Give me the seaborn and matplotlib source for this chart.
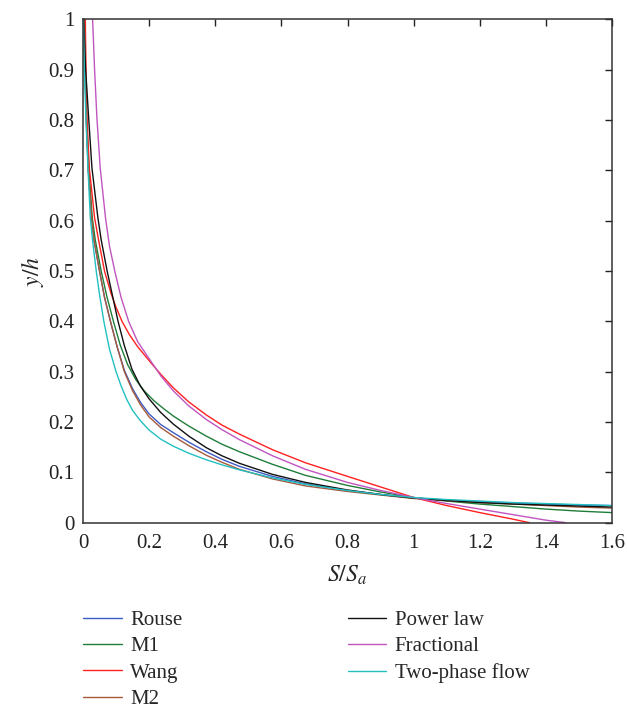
import numpy as np
import pandas as pd
import matplotlib
matplotlib.use('Agg')
import matplotlib.pyplot as plt
import seaborn as sns

# values: S/Sa (x) against y/h (y), one list pair per model
rouse_s = [0.003, 0.006, 0.010, 0.016, 0.026, 0.033, 0.050, 0.065, 0.083, 0.103, 0.125, 0.150,
           0.175, 0.200, 0.235, 0.273, 0.32, 0.373, 0.42, 0.473, 0.573, 0.673, 0.8, 0.9,
           1.0, 1.1, 1.2, 1.3, 1.4, 1.5, 1.6]
rouse_y = [1.0, 0.9, 0.8, 0.7, 0.606, 0.562, 0.5, 0.448, 0.4, 0.350, 0.303, 0.266,
           0.238, 0.216, 0.195, 0.179, 0.160, 0.141, 0.126, 0.112, 0.092, 0.077, 0.064, 0.056,
           0.049, 0.045, 0.042, 0.039, 0.037, 0.035, 0.034]

m1_s = [0.003, 0.006, 0.011, 0.018, 0.028, 0.037, 0.055, 0.072, 0.092, 0.113, 0.135, 0.160,
        0.185, 0.215, 0.245, 0.273, 0.32, 0.373, 0.42, 0.473, 0.573, 0.673, 0.8, 0.9,
        1.0, 1.1, 1.2, 1.3, 1.4, 1.5, 1.6]
m1_y = [1.0, 0.9, 0.8, 0.7, 0.606, 0.562, 0.5, 0.45, 0.4, 0.352, 0.314, 0.284,
        0.262, 0.242, 0.226, 0.212, 0.192, 0.172, 0.156, 0.141, 0.116, 0.094, 0.074, 0.061,
        0.050, 0.043, 0.037, 0.032, 0.027, 0.023, 0.020]

wang_s = [0.007, 0.009, 0.012, 0.019, 0.035, 0.047, 0.065, 0.085, 0.100, 0.118, 0.140, 0.165,
          0.200, 0.235, 0.273, 0.32, 0.373, 0.42, 0.473, 0.573, 0.673, 0.8, 0.9, 1.0,
          1.1, 1.2, 1.3, 1.35]
wang_y = [1.0, 0.9, 0.805, 0.705, 0.606, 0.562, 0.5, 0.455, 0.428, 0.4, 0.374, 0.350,
          0.322, 0.295, 0.268, 0.240, 0.214, 0.194, 0.176, 0.145, 0.119, 0.092, 0.071, 0.050,
          0.034, 0.020, 0.007, 0.0]

m2_s = [0.004, 0.007, 0.010, 0.016, 0.026, 0.033, 0.050, 0.065, 0.083, 0.103, 0.125, 0.150,
        0.175, 0.200, 0.235, 0.273, 0.32, 0.373, 0.42, 0.473, 0.573, 0.673, 0.8, 0.9,
        1.0, 1.1, 1.2, 1.3, 1.4, 1.5, 1.6]
m2_y = [1.0, 0.9, 0.8, 0.7, 0.606, 0.562, 0.5, 0.448, 0.4, 0.350, 0.300, 0.262,
        0.233, 0.210, 0.189, 0.172, 0.153, 0.134, 0.120, 0.106, 0.087, 0.073, 0.062, 0.055,
        0.048, 0.044, 0.040, 0.037, 0.034, 0.031, 0.029]

power_s = [0.002, 0.008, 0.017, 0.027, 0.045, 0.055, 0.073, 0.106, 0.125, 0.148, 0.173, 0.200,
           0.235, 0.273, 0.32, 0.373, 0.42, 0.473, 0.573, 0.673, 0.8, 0.9, 1.0, 1.1,
           1.2, 1.3, 1.4, 1.5, 1.6]
power_y = [1.0, 0.9, 0.805, 0.705, 0.606, 0.562, 0.5, 0.4, 0.352, 0.305, 0.272, 0.246,
           0.219, 0.196, 0.172, 0.149, 0.133, 0.118, 0.096, 0.080, 0.065, 0.056, 0.049, 0.044,
           0.040, 0.037, 0.035, 0.033, 0.031]

frac_s = [0.029, 0.035, 0.042, 0.052, 0.068, 0.080, 0.096, 0.115, 0.138, 0.165, 0.200, 0.235,
          0.273, 0.32, 0.373, 0.42, 0.473, 0.573, 0.673, 0.8, 0.9, 1.0, 1.1, 1.2,
          1.3, 1.4, 1.46]
frac_y = [1.0, 0.9, 0.805, 0.705, 0.606, 0.55, 0.5, 0.448, 0.4, 0.36, 0.326, 0.292,
          0.262, 0.232, 0.205, 0.185, 0.165, 0.133, 0.106, 0.080, 0.064, 0.050, 0.038, 0.027,
          0.016, 0.005, 0.0]

twophase_s = [0.001, 0.004, 0.009, 0.015, 0.022, 0.029, 0.040, 0.050, 0.063, 0.080, 0.100, 0.115,
              0.133, 0.150, 0.173, 0.200, 0.235, 0.273, 0.32, 0.373, 0.42, 0.473, 0.573, 0.673,
              0.8, 0.9, 1.0, 1.1, 1.2, 1.3, 1.4, 1.5, 1.6]
twophase_y = [1.0, 0.9, 0.8, 0.705, 0.606, 0.56, 0.5, 0.453, 0.4, 0.345, 0.300, 0.272,
              0.244, 0.223, 0.203, 0.184, 0.166, 0.152, 0.138, 0.125, 0.115, 0.105, 0.089, 0.076,
              0.064, 0.056, 0.050, 0.046, 0.043, 0.040, 0.038, 0.036, 0.034]

labels = ['Rouse', 'M1', 'Wang', 'M2', 'Power law', 'Fractional', 'Two-phase flow']
series = [(rouse_s, rouse_y), (m1_s, m1_y), (wang_s, wang_y), (m2_s, m2_y),
          (power_s, power_y), (frac_s, frac_y), (twophase_s, twophase_y)]
colors = ['#3d5bc4', '#1f7d3a', '#ff2020', '#a65a3c', '#111111', '#c055c0', '#22c0c0']

x_ticks = [0, 0.2, 0.4, 0.6, 0.8, 1.0, 1.2, 1.4, 1.6]
y_ticks = [0, 0.1, 0.2, 0.3, 0.4, 0.5, 0.6, 0.7, 0.8, 0.9, 1.0]

# long-form table for seaborn
frames = []
for lab, (s, y) in zip(labels, series):
    frames.append(pd.DataFrame({'S': s, 'y': y, 'model': lab}))
df = pd.concat(frames, ignore_index=True)

sns.set_style('white')
plt.rcParams['font.family'] = ['Liberation Serif', 'DejaVu Serif']
plt.rcParams['mathtext.fontset'] = 'stix'

fig = plt.figure(figsize=(6.27, 7.09), dpi=100)
ax = fig.add_axes([0.1324, 0.2628, 0.8437, 0.7097])

sns.lineplot(data=df, x='S', y='y', hue='model', hue_order=labels,
             palette=dict(zip(labels, colors)), sort=False, estimator=None,
             linewidth=1.0, ax=ax)

ax.set_xlim(0, 1.6)
ax.set_ylim(0, 1)
ax.set_xticks(x_ticks)
ax.set_yticks(y_ticks)
ax.set_xticklabels([f'{v:g}' for v in x_ticks])
ax.set_yticklabels([f'{v:g}' for v in y_ticks])
ax.tick_params(direction='in', top=True, right=True, length=5, width=1,
               labelsize=15, colors='#222222', pad=6)
ax.tick_params(axis='x', pad=8)
for sp in ax.spines.values():
    sp.set_color('#333333')
    sp.set_linewidth(1.1)

ax.set_xlabel('$S/S_a$', fontsize=17, labelpad=8)
ax.set_ylabel('$y/h$', fontsize=17, labelpad=2)

sns.move_legend(ax, 'upper left', bbox_to_anchor=(0.0, -0.174), ncol=2,
                frameon=False, title=None, fontsize=15, handlelength=1.85,
                handletextpad=0.4, columnspacing=7.95, labelspacing=0.33,
                borderpad=0, borderaxespad=0)

fig.savefig('out.png', dpi=100)
